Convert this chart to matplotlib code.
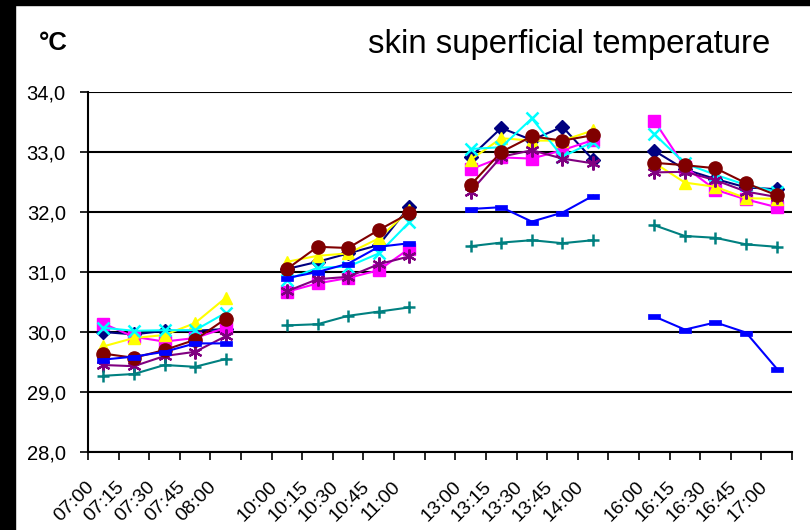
import numpy as np
import matplotlib
matplotlib.use("Agg")
import matplotlib.pyplot as plt
from matplotlib.patches import Rectangle
from matplotlib.path import Path
from matplotlib.transforms import ScaledTranslation, blended_transform_factory

plt.rcParams['font.family'] = ['Liberation Sans', 'DejaVu Sans']

categories = ["07:00", "07:15", "07:30", "07:45", "08:00", "",
              "10:00", "10:15", "10:30", "10:45", "11:00", "",
              "13:00", "13:15", "13:30", "13:45", "14:00", "",
              "16:00", "16:15", "16:30", "16:45", "17:00"]

N = np.nan
s_navy    = [30.00, 29.96, 30.02, 30.02, 30.05, N, 31.05, 31.17, 31.31, 31.45, 32.09, N, 32.92, 33.40, 33.20, 33.42, 32.87, N, 33.02, 32.71, 32.55, 32.41, 32.38]
s_magenta = [30.14, 29.92, 29.84, 29.90, 30.07, N, 30.67, 30.81, 30.90, 31.03, 31.39, N, 32.71, 32.91, 32.89, 33.03, 33.20, N, 33.52, 32.75, 32.37, 32.21, 32.08]
s_yellow  = [29.76, 29.90, 29.95, 30.15, 30.57, N, 31.17, 31.27, 31.31, 31.56, 32.03, N, 32.87, 33.23, 33.19, 33.19, 33.36, N, 32.82, 32.49, 32.42, 32.23, 32.22]
s_cyan    = [30.07, 30.02, 30.03, 30.03, 30.32, N, 30.87, 31.07, 31.09, 31.31, 31.83, N, 33.05, 33.08, 33.56, 32.92, 33.17, N, 33.30, 32.81, 32.62, 32.45, 32.34]
s_purple  = [29.45, 29.43, 29.60, 29.67, 29.93, N, 30.68, 30.88, 30.92, 31.13, 31.26, N, 32.34, 32.92, 33.03, 32.89, 32.81, N, 32.66, 32.67, 32.53, 32.34, 32.25]
s_brown   = [29.64, 29.57, 29.70, 29.87, 30.22, N, 31.05, 31.42, 31.40, 31.70, 31.98, N, 32.45, 33.00, 33.26, 33.19, 33.28, N, 32.82, 32.78, 32.73, 32.48, 32.28]
s_teal    = [29.27, 29.30, 29.45, 29.42, 29.55, N, 30.11, 30.13, 30.27, 30.34, 30.41, N, 31.43, 31.49, 31.53, 31.48, 31.53, N, 31.78, 31.60, 31.57, 31.46, 31.42]
s_blue    = [29.54, 29.59, 29.67, 29.81, 29.81, N, 30.90, 31.00, 31.14, 31.42, 31.48, N, 32.05, 32.08, 31.84, 31.99, 32.27, N, 30.26, 30.04, 30.16, 29.99, 29.39]

yticks = [28.0, 29.0, 30.0, 31.0, 32.0, 33.0, 34.0]

dash = Path([(-1, -0.45), (1, -0.45), (1, 0.45), (-1, 0.45), (-1, -0.45)],
            [Path.MOVETO, Path.LINETO, Path.LINETO, Path.LINETO, Path.CLOSEPOLY])

styles = [
    (s_navy,    "#000080", "D", 7.5, 1.0),
    (s_magenta, "#FF00FF", "s", 8, 1.0),
    (s_yellow,  "#FFFF00", "^", 9, 1.0),
    (s_cyan,    "#00FFFF", "x", 9, 1.8),
    (s_purple,  "#800080", (6, 2, 0), 10, 1.6),
    (s_brown,   "#800000", "o", 9.5, 1.0),
    (s_teal,    "#008080", "+", 9, 1.8),
    (s_blue,    "#0000FF", dash, 8, 0.5),
]

fig = plt.figure(figsize=(8.1, 5.3), dpi=100)
ax = fig.add_axes([88/810, 1-452/530, (792-88)/810, (452-92)/530])

x = np.arange(len(categories))
for vals, col, mk, ms, mew in styles:
    ax.plot(x, vals, color=col, lw=1.5, marker=mk, markersize=ms,
            markerfacecolor=col, markeredgecolor=col, markeredgewidth=mew,
            clip_on=False, zorder=3)

ax.set_xlim(-0.5, len(categories) - 0.5)
ax.set_ylim(28, 34)
ax.set_yticks(yticks)
ax.set_yticklabels([f"{v:.1f}".replace(".", ",") for v in yticks], fontsize=14.5)
ax.yaxis.grid(True, color="black", lw=1.5)
ax.set_axisbelow(True)

ax.set_xticks(np.arange(-0.5, len(categories)))
ax.set_xticklabels([])
ax.tick_params(axis="x", length=6, width=1.2, color="black")
ax.tick_params(axis="y", length=6, width=1.2, pad=10)

lbl_tr = blended_transform_factory(ax.transData, ax.transAxes) + \
    ScaledTranslation(-18/100, -26/100, fig.dpi_scale_trans)
for i, c in enumerate(categories):
    if c:
        ax.text(i, 0, c, transform=lbl_tr, rotation=45, ha="right", va="top",
                rotation_mode="anchor", fontsize=14)

for s in ["top", "right"]:
    ax.spines[s].set_visible(False)
ax.spines["left"].set_linewidth(1.5)
ax.spines["bottom"].set_linewidth(1.5)

fig.text(770/810, 1-45/530, "skin superficial temperature", ha="right", va="center", fontsize=23.7)
fig.text(39/810, 1-43/530, "°C", ha="left", va="center", fontsize=18.5, fontweight="bold")

fig.patches.append(Rectangle((0, 0), 15/810, 1, transform=fig.transFigure, color="black", zorder=10))
fig.patches.append(Rectangle((0, 1-5/530), 1, 5/530, transform=fig.transFigure, color="black", zorder=10))

fig.savefig("out.png", dpi=100)
